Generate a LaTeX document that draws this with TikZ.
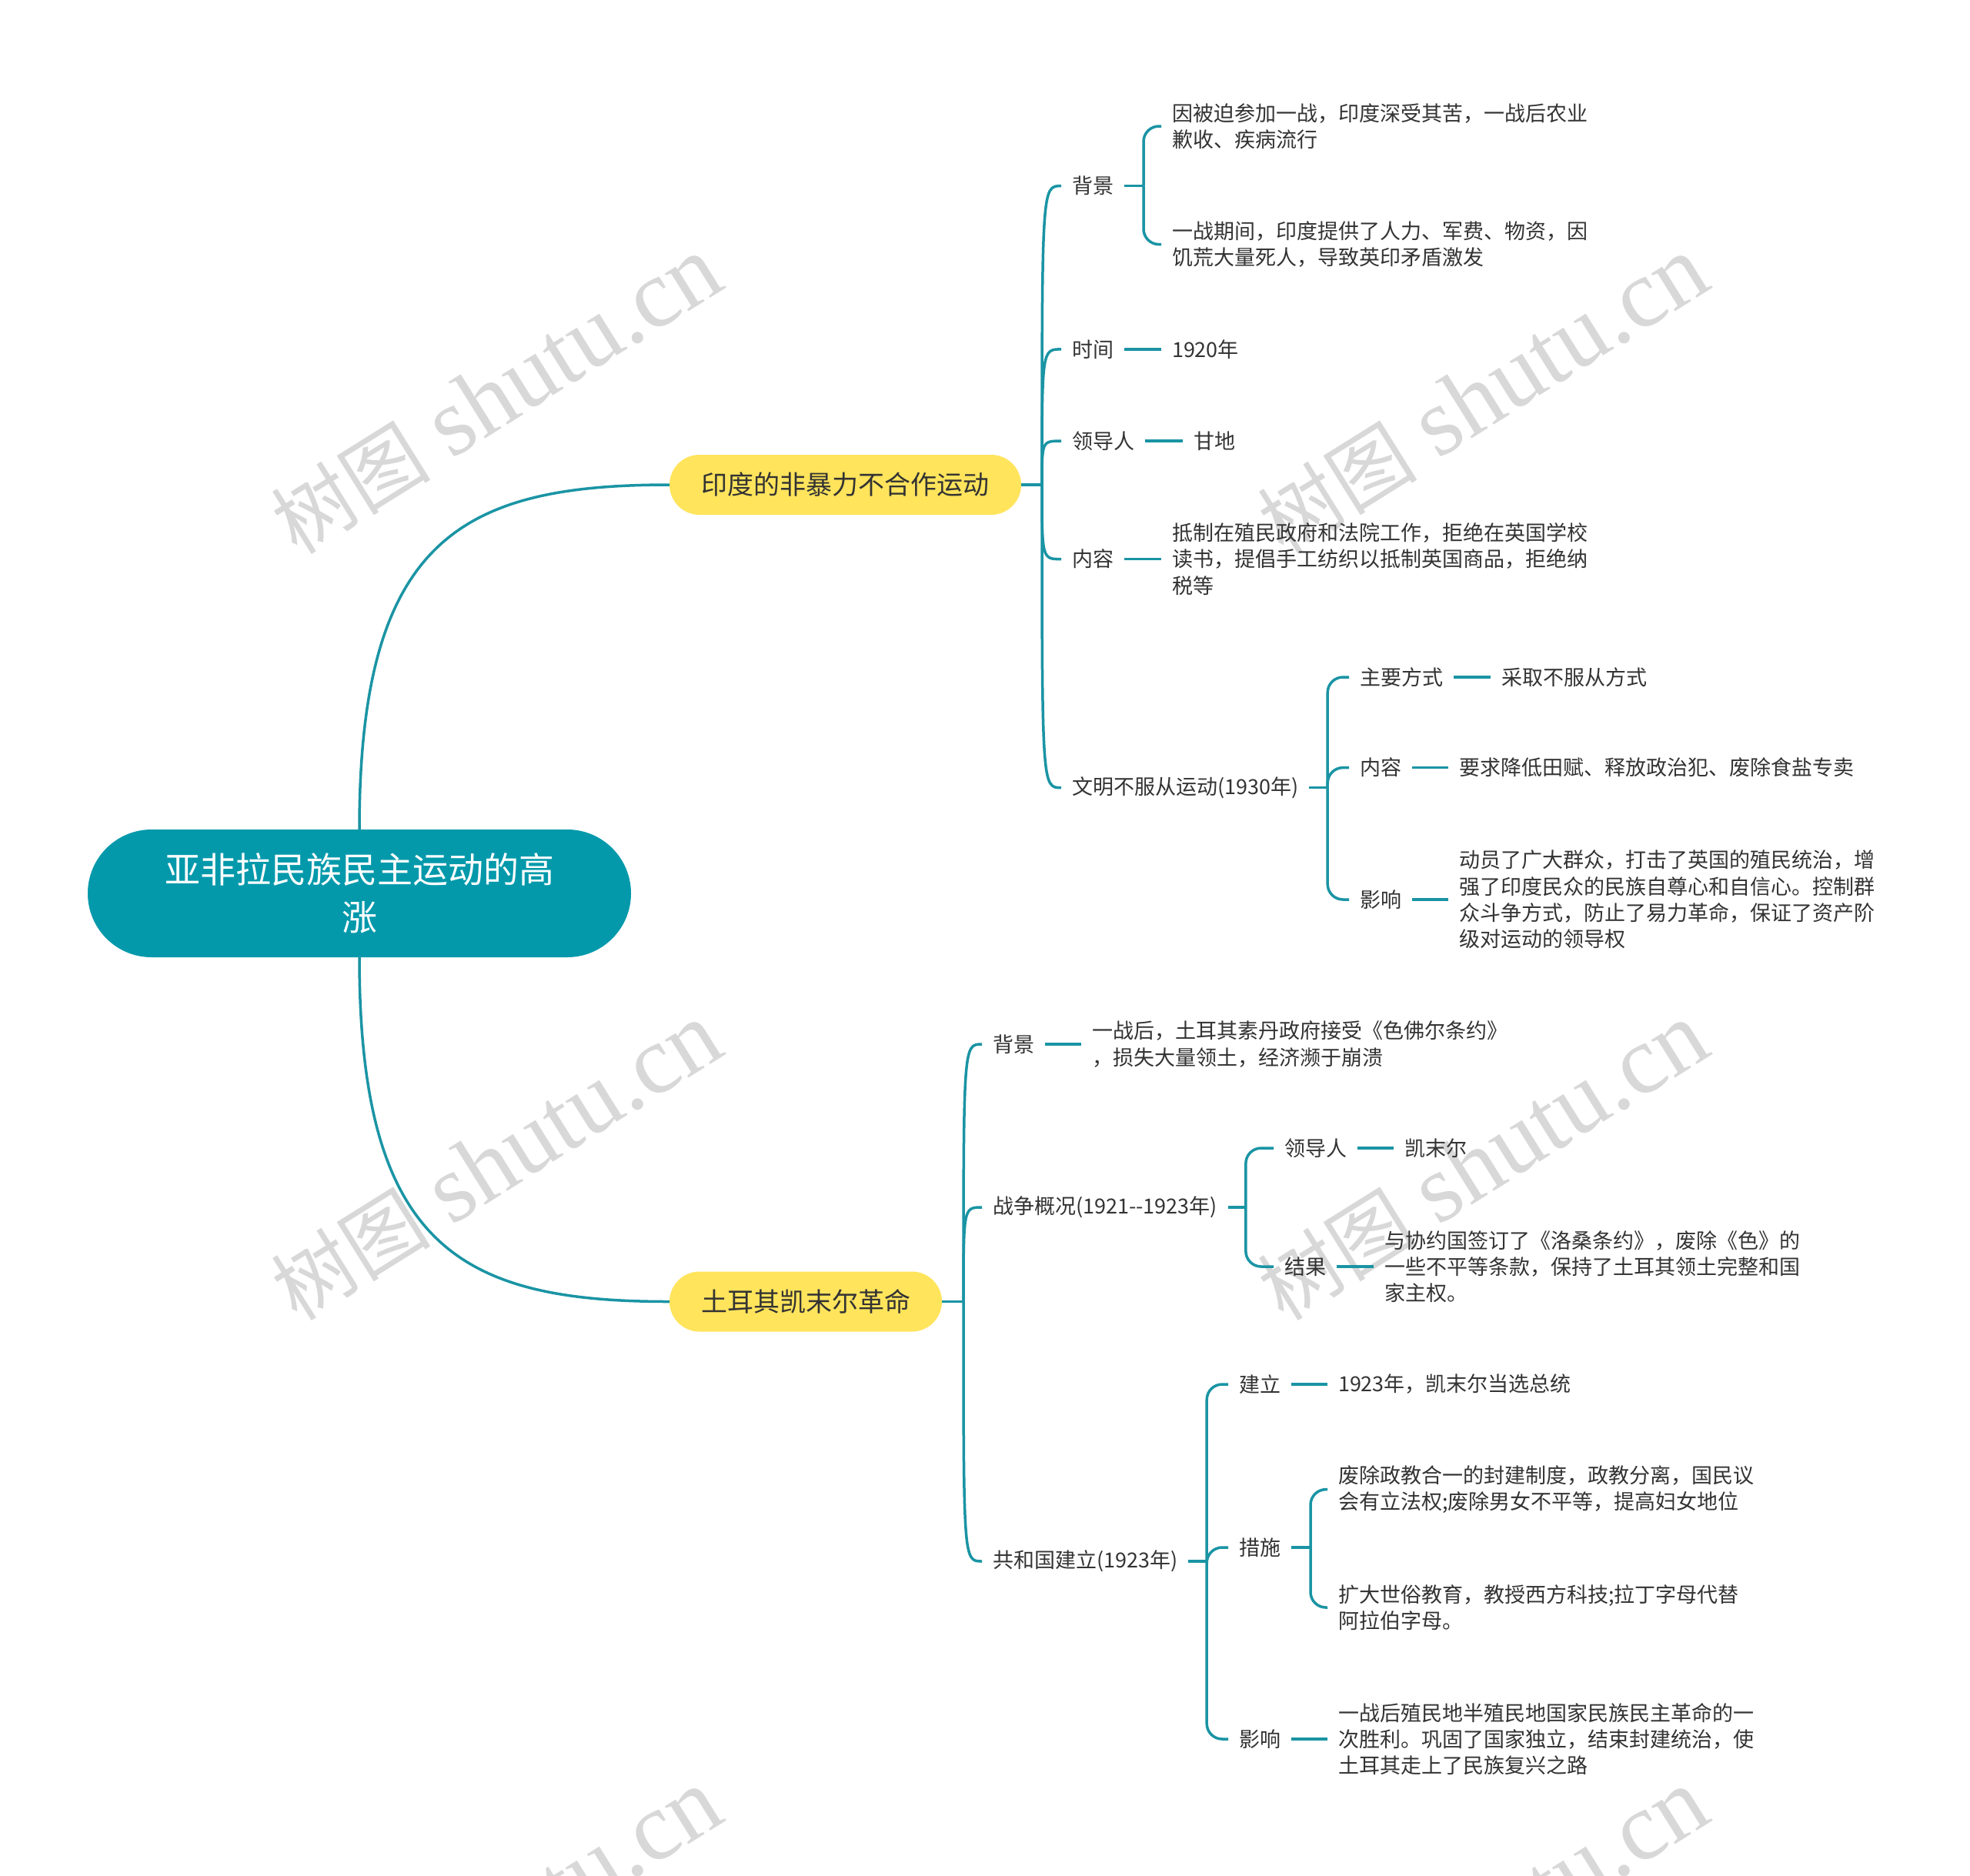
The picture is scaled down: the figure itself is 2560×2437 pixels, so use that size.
\documentclass[tikz,border=0pt]{standalone}
\usepackage{fontspec}
\setmainfont{Noto Sans CJK SC}
\newfontfamily\wmlatin{Liberation Serif}
\definecolor{teal1}{HTML}{1A94A4}
\definecolor{rootc}{HTML}{0399AB}
\definecolor{yel}{HTML}{FFE45C}
\definecolor{txt}{HTML}{333333}
\definecolor{wmc}{HTML}{D8D8D8}
\begin{document}
\begin{tikzpicture}[x=1pt,y=-1pt,
  lbl/.style={inner xsep=14pt, inner ysep=2pt, outer sep=0pt, anchor=west, text=txt, font=\fontsize{27}{34.3}\selectfont, align=left},
  conn/.style={draw=teal1, line width=3.5pt},
  bracket/.style={conn, rounded corners=20pt},
  lvlone/.style={fill=yel, text=txt, rounded corners=39pt, minimum height=78pt, inner sep=0pt, outer sep=0pt, font=\fontsize{34}{40}\selectfont},
  rootbox/.style={fill=rootc, text=white, rounded corners=83pt, minimum width=706pt, minimum height=166pt, inner sep=0pt, outer sep=0pt, align=center, font=\fontsize{46}{62}\selectfont},
  wmark/.style={text=wmc, rotate=32, inner sep=0pt}
]
\useasboundingbox[fill=white] (0,0) rectangle (2560,2437);
\clip (0,0) rectangle (2560,2437);

% watermarks
\foreach \wx/\wy in {645/514, 1927/514, 645/1510, 1927/1510, 645/2506, 1927/2506}
  \node[wmark] at (\wx,\wy) {{\fontsize{104}{104}\selectfont 树图}\hspace{28pt}{\wmlatin\fontsize{126}{126}\selectfont shutu.cn}};

% root and level one
\node[rootbox] (root) at (467,1161) {亚非拉民族民主运动的高\\涨};
\node[lvlone, minimum width=457pt] (india) at (1098.5,630) {印度的非暴力不合作运动};
\node[lvlone, minimum width=354pt] (turkey) at (1047,1691.5) {土耳其凯末尔革命};

\draw[conn] (root.north) .. controls (467,700) and (600,630) .. (india.west);
\draw[conn] (root.south) .. controls (467,1622) and (600,1691.5) .. (turkey.west);

% ---------- India ----------
\node[lbl] (bg) at (1379,241.6) {背景};
\node[lbl] (bg1) at (1509,164) {因被迫参加一战，印度深受其苦，一战后农业\\歉收、疾病流行};
\node[lbl] (bg2) at (1509,317.6) {一战期间，印度提供了人力、军费、物资，因\\饥荒大量死人，导致英印矛盾激发};
\node[lbl] (sj) at (1379,453.9) {时间};
\node[lbl] (sj1) at (1509,453.9) {1920年};
\node[lbl] (ld) at (1379,573.1) {领导人};
\node[lbl] (ld1) at (1537,573.1) {甘地};
\node[lbl] (nr) at (1379,726.6) {内容};
\node[lbl] (nr1) at (1509,726.6) {抵制在殖民政府和法院工作，拒绝在英国学校\\读书，提倡手工纺织以抵制英国商品，拒绝纳\\税等};
\node[lbl] (cd) at (1379,1023.7) {文明不服从运动(1930年)};
\node[lbl] (zy) at (1753,880) {主要方式};
\node[lbl] (zy1) at (1937,880) {采取不服从方式};
\node[lbl] (cn) at (1753,997.6) {内容};
\node[lbl] (cn1) at (1882,997.6) {要求降低田赋、释放政治犯、废除食盐专卖};
\node[lbl] (yx) at (1753,1169) {影响};
\node[lbl] (yx1) at (1882,1169) {动员了广大群众，打击了英国的殖民统治，增\\强了印度民众的民族自尊心和自信心。控制群\\众斗争方式，防止了易力革命，保证了资产阶\\级对运动的领导权};

\coordinate (ib) at (1354,630);
\draw[conn] (india.east) -- (ib);
\foreach \c in {bg,sj,ld,nr,cd}
  \draw[conn] (ib) .. controls (ib |- \c.west) .. (\c.west);

\coordinate (bgb) at ([xshift=25pt]bg.east);
\draw[conn] (bg.east) -- (bgb);
\draw[bracket] (bgb) |- (bg1.west);
\draw[bracket] (bgb) |- (bg2.west);
\draw[conn] (sj.east) -- (sj1.west);
\draw[conn] (ld.east) -- (ld1.west);
\draw[conn] (nr.east) -- (nr1.west);

\coordinate (cdb) at ([xshift=24pt]cd.east);
\draw[conn] (cd.east) -- (cdb);
\draw[bracket] (cdb) |- (zy.west);
\draw[bracket] (cdb) |- (cn.west);
\draw[bracket] (cdb) |- (yx.west);
\draw[conn] (zy.east) -- (zy1.west);
\draw[conn] (cn.east) -- (cn1.west);
\draw[conn] (yx.east) -- (yx1.west);

% ---------- Turkey ----------
\node[lbl] (tb) at (1276,1357) {背景};
\node[lbl] (tb1) at (1405,1357) {一战后，土耳其素丹政府接受《色佛尔条约》\\，损失大量领土，经济濒于崩溃};
\node[lbl] (zz) at (1276,1569) {战争概况(1921-\kern0pt-1923年)};
\node[lbl] (zl) at (1655,1492) {领导人};
\node[lbl] (zl1) at (1811,1492) {凯末尔};
\node[lbl] (zj) at (1655,1646) {结果};
\node[lbl] (zj1) at (1785,1646) {与协约国签订了《洛桑条约》，废除《色》的\\一些不平等条款，保持了土耳其领土完整和国\\家主权。};
\node[lbl] (gh) at (1276,2029) {共和国建立(1923年)};
\node[lbl] (gj) at (1596,1799) {建立};
\node[lbl] (gj1) at (1725,1799) {1923年，凯末尔当选总统};
\node[lbl] (cs) at (1596,2011) {措施};
\node[lbl] (cs1) at (1725,1935.6) {废除政教合一的封建制度，政教分离，国民议\\会有立法权;废除男女不平等，提高妇女地位};
\node[lbl] (cs2) at (1725,2089) {扩大世俗教育，教授西方科技;拉丁字母代替\\阿拉伯字母。};
\node[lbl] (gy) at (1596,2260) {影响};
\node[lbl] (gy1) at (1725,2260) {一战后殖民地半殖民地国家民族民主革命的一\\次胜利。巩固了国家独立，结束封建统治，使\\土耳其走上了民族复兴之路};

\coordinate (tkb) at (1252,1691.5);
\draw[conn] (turkey.east) -- (tkb);
\foreach \c in {tb,zz,gh}
  \draw[conn] (tkb) .. controls (tkb |- \c.west) .. (\c.west);
\draw[conn] (tb.east) -- (tb1.west);

\coordinate (zzb) at ([xshift=23pt]zz.east);
\draw[conn] (zz.east) -- (zzb);
\draw[bracket] (zzb) |- (zl.west);
\draw[bracket] (zzb) |- (zj.west);
\draw[conn] (zl.east) -- (zl1.west);
\draw[conn] (zj.east) -- (zj1.west);

\coordinate (ghb) at ([xshift=24pt]gh.east);
\draw[conn] (gh.east) -- (ghb);
\draw[bracket] (ghb) |- (gj.west);
\draw[bracket] (ghb) |- (cs.west);
\draw[bracket] (ghb) |- (gy.west);
\draw[conn] (gj.east) -- (gj1.west);
\draw[conn] (gy.east) -- (gy1.west);

\coordinate (csb) at ([xshift=25pt]cs.east);
\draw[conn] (cs.east) -- (csb);
\draw[bracket] (csb) |- (cs1.west);
\draw[bracket] (csb) |- (cs2.west);
\end{tikzpicture}
\end{document}
